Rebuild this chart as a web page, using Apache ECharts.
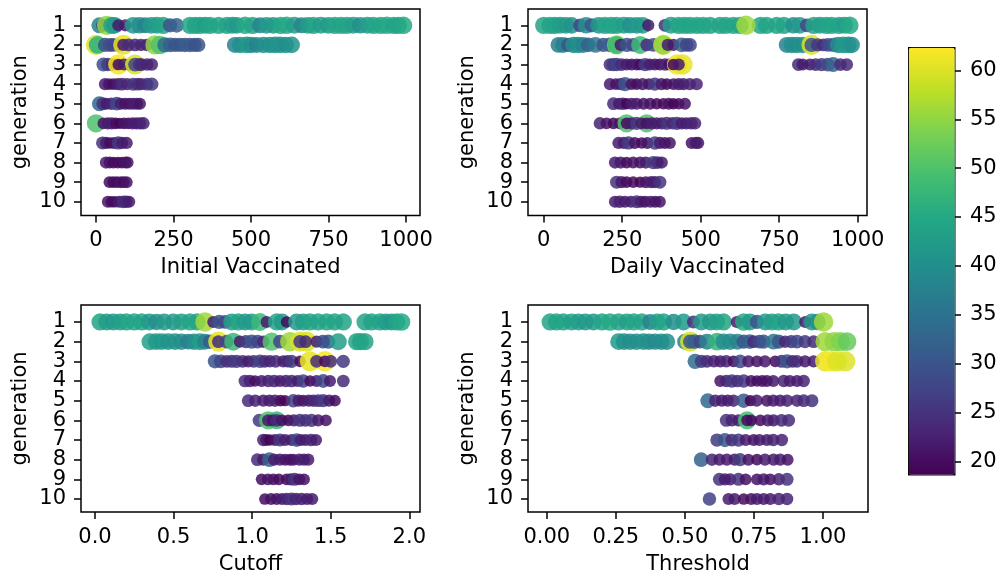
<!DOCTYPE html>
<html>
<head>
<meta charset="utf-8">
<script src="https://cdn.jsdelivr.net/npm/echarts@6/dist/echarts.min.js"></script>
<style>html,body{margin:0;padding:0;background:#fff}#chart{width:1000px;height:579px}</style>
</head>
<body>
<div id="chart"></div>
<script>
// Each point: [parameter value, generation, fitness]
const initialVaccinated = [
 [11,1,38],[21,1,24],[34,1,55],[51,1,44],[60,1,42],[72,1,22],[94,1,22],[120,1,42],[140,1,40],[158,1,38],[178,1,42],[196,1,43],[217,1,44],[239,1,30],[260,1,32],[303,1,44],[320,1,44],[335,1,44],[352,1,43],[368,1,44],[395,1,44],[422,1,44],[440,1,43],[454,1,42],[481,1,45],[505,1,44],[529,1,38],[550,1,42],[572,1,42],[595,1,44],[615,1,45],[640,1,43],[663,1,38],[683,1,42],[701,1,44],[725,1,43],[749,1,42],[770,1,44],[790,1,44],[809,1,44],[830,1,43],[852,1,40],[875,1,43],[895,1,44],[918,1,44],[938,1,45],[960,1,44],[975,1,44],[992,1,45],
 [0,2,60],[5,2,46],[29,2,30],[45,2,29],[56,2,28],[72,2,27],[88,2,61],[88,2,22],[105,2,24],[126,2,24],[145,2,23],[163,2,23],[190,2,55],[206,2,50],[222,2,34],[239,2,32],[255,2,30],[271,2,30],[287,2,31],[303,2,31],[318,2,30],[330,2,30],[448,2,38],[465,2,40],[486,2,42],[500,2,40],[518,2,38],[540,2,40],[561,2,40],[578,2,41],[594,2,41],[612,2,40],[631,2,41],
 [24,3,29],[38,3,27],[51,3,24],[62,3,22],[72,3,62],[72,3,20],[90,3,22],[110,3,24],[126,3,60],[126,3,28],[140,3,25],[147,3,24],[165,3,23],[180,3,23],
 [29,4,22],[42,4,21],[56,4,20],[70,4,22],[83,4,24],[100,4,23],[120,4,25],[135,4,24],[147,4,23],[165,4,24],[180,4,26],
 [11,5,33],[22,5,25],[34,5,22],[50,5,23],[67,5,28],[80,5,22],[94,5,21],[108,5,21],[120,5,22],[132,5,22],[142,5,21],
 [0,6,50],[24,6,21],[38,6,22],[51,6,22],[64,6,20],[77,6,19],[90,6,21],[104,6,21],[118,6,22],[131,6,22],[143,6,22],[153,6,23],
 [21,7,25],[33,7,22],[45,7,20],[58,7,21],[72,7,26],[85,7,22],[99,7,22],
 [32,8,22],[44,8,21],[56,8,20],[70,8,20],[83,8,20],[95,8,21],[102,8,21],
 [43,9,20],[55,9,20],[67,9,20],[80,9,21],[90,9,20],[99,9,21],
 [38,10,21],[50,10,20],[61,10,20],[75,10,22],[88,10,24],[98,10,23],[107,10,22]
];
const dailyVaccinated = [
 [0,1,44],[20,1,44],[35,1,44],[52,1,43],[70,1,42],[89,1,41],[116,1,28],[135,1,40],[153,1,30],[175,1,42],[195,1,44],[215,1,44],[232,1,44],[255,1,43],[275,1,40],[296,1,42],[315,1,42],[333,1,22],[386,1,24],[405,1,43],[429,1,44],[448,1,44],[466,1,44],[488,1,44],[508,1,44],[530,1,44],[561,1,44],[580,1,44],[604,1,44],[625,1,44],[690,1,44],[644,1,56],[710,1,44],[742,1,44],[765,1,44],[795,1,40],[815,1,42],[838,1,28],[860,1,44],[880,1,43],[900,1,44],[917,1,44],[940,1,44],[958,1,43],[975,1,45],
 [47,2,37],[62,2,38],[78,2,30],[95,2,40],[110,2,40],[126,2,38],[142,2,32],[165,2,36],[190,2,30],[210,2,32],[232,2,55],[232,2,48],[245,2,22],[265,2,30],[285,2,28],[307,2,48],[328,2,24],[349,2,28],[381,2,60],[381,2,55],[395,2,22],[413,2,22],[439,2,32],[455,2,28],[466,2,28],
 [774,2,38],[790,2,40],[806,2,40],[825,2,40],[853,2,60],[853,2,30],[872,2,26],[890,2,24],[905,2,28],[922,2,30],[938,2,40],[954,2,42],[970,2,42],[981,2,40],
 [211,3,24],[222,3,26],[232,3,27],[248,3,24],[264,3,22],[280,3,21],[296,3,22],[307,3,20],[323,3,26],[338,3,22],[354,3,22],[370,3,21],[386,3,23],[400,3,21],[425,3,62],[442,3,61],[413,3,20],[430,3,22],
 [811,3,24],[825,3,22],[848,3,22],[866,3,24],[885,3,26],[905,3,28],[922,3,33],[945,3,24],[965,3,24],
 [211,4,22],[230,4,21],[245,4,22],[259,4,30],[280,4,21],[296,4,20],[315,4,22],[335,4,21],[354,4,26],[375,4,22],[392,4,20],[413,4,21],[430,4,22],[445,4,22],[465,4,23],[487,4,23],
 [222,5,24],[240,5,22],[252,5,23],[264,5,19],[280,5,22],[296,5,22],[318,5,21],[339,5,21],[360,5,20],[381,5,20],[398,5,21],[413,5,19],[430,5,20],[450,5,21],
 [179,6,23],[200,6,21],[222,6,20],[242,6,21],[264,6,50],[264,6,20],[280,6,22],[296,6,26],[328,6,50],[312,6,21],[328,6,21],[344,6,22],[360,6,22],[376,6,22],[392,6,25],[410,6,23],[424,6,26],[440,6,22],[455,6,22],[470,6,23],[482,6,23],
 [238,7,22],[255,7,22],[270,7,26],[290,7,21],[312,7,20],[330,7,21],[354,7,27],[370,7,22],[386,7,21],[402,7,21],[471,7,21],[485,7,22],[492,7,22],
 [227,8,22],[245,8,22],[264,8,20],[285,8,21],[307,8,21],[325,8,22],[349,8,26],[362,8,24],[376,8,22],
 [232,9,25],[248,9,22],[264,9,20],[285,9,20],[307,9,19],[325,9,21],[342,9,22],[354,9,22],[370,9,25],
 [227,10,22],[242,10,23],[259,10,22],[278,10,22],[296,10,25],[310,10,22],[323,10,21],[340,10,22],[355,10,21],[370,10,21]
];
const cutoff = [
 [0.032,1,44],[0.075,1,43],[0.117,1,42],[0.16,1,43],[0.20,1,44],[0.25,1,44],[0.297,1,44],[0.345,1,42],[0.392,1,40],[0.44,1,42],[0.498,1,42],[0.55,1,43],[0.604,1,44],[0.65,1,44],[0.70,1,56],[0.753,1,22],[0.79,1,30],[0.827,1,28],[0.87,1,43],[0.912,1,44],[0.955,1,42],[0.997,1,42],[1.05,1,48],[1.092,1,22],[1.156,1,44],[1.19,1,42],[1.219,1,20],[1.283,1,42],[1.325,1,43],[1.368,1,44],[1.42,1,44],[1.474,1,44],[1.525,1,44],[1.58,1,44],[1.718,1,44],[1.76,1,44],[1.813,1,44],[1.85,1,43],[1.887,1,42],[1.92,1,44],[1.951,1,45],
 [0.35,2,43],[0.39,2,42],[0.424,2,42],[0.465,2,41],[0.509,2,41],[0.55,2,40],[0.594,2,37],[0.63,2,40],[0.668,2,43],[0.70,2,38],[0.732,2,31],[0.785,2,61],[0.785,2,24],[0.838,2,28],[0.88,2,48],[0.922,2,22],[0.96,2,26],[0.997,2,30],[1.035,2,28],[1.071,2,23],[1.124,2,50],[1.177,2,28],[1.24,2,56],[1.304,2,60],[1.347,2,60],[1.304,2,26],[1.34,2,24],[1.41,2,22],[1.45,2,28],[1.484,2,30],[1.548,2,43],[1.665,2,44],[1.69,2,44],[1.718,2,44],
 [0.763,3,30],[0.80,3,28],[0.838,3,24],[0.87,3,25],[0.901,3,26],[0.94,3,24],[0.975,3,22],[1.01,3,24],[1.05,3,27],[1.08,3,24],[1.113,3,23],[1.15,3,24],[1.198,3,22],[1.225,3,23],[1.251,3,26],[1.304,3,20],[1.368,3,61],[1.463,3,62],[1.41,3,24],[1.463,3,20],[1.50,3,24],[1.58,3,26],
 [0.954,4,24],[0.985,4,23],[1.018,4,20],[1.06,4,22],[1.102,4,23],[1.14,4,24],[1.177,4,22],[1.215,4,23],[1.251,4,24],[1.29,4,22],[1.325,4,27],[1.368,4,20],[1.41,4,22],[1.452,4,28],[1.495,4,22],[1.58,4,24],
 [0.975,5,24],[1.02,5,23],[1.071,5,22],[1.11,5,22],[1.145,5,23],[1.18,5,20],[1.209,5,19],[1.262,5,27],[1.295,5,22],[1.325,5,21],[1.36,5,22],[1.389,5,23],[1.42,5,24],[1.452,5,26],[1.49,5,22],[1.527,5,20],
 [1.045,6,26],[1.102,6,50],[1.156,6,48],[1.102,6,22],[1.13,6,21],[1.156,6,24],[1.19,6,21],[1.23,6,20],[1.265,6,22],[1.304,6,25],[1.34,6,24],[1.378,6,26],[1.42,6,22],[1.469,6,21],
 [1.071,7,23],[1.09,7,21],[1.113,7,19],[1.145,7,21],[1.177,7,25],[1.21,7,22],[1.25,7,22],[1.283,7,28],[1.31,7,22],[1.34,7,22],[1.375,7,23],[1.406,7,22],
 [1.033,8,24],[1.07,8,22],[1.11,8,32],[1.14,8,22],[1.177,8,22],[1.21,8,21],[1.24,8,21],[1.262,8,21],[1.3,8,22],[1.33,8,22],[1.357,8,22],
 [1.06,9,20],[1.1,9,21],[1.135,9,21],[1.17,9,20],[1.219,9,20],[1.245,9,22],[1.27,9,25],[1.30,9,21],[1.33,9,21],
 [1.081,10,20],[1.12,10,21],[1.156,10,21],[1.19,10,22],[1.22,10,23],[1.251,10,25],[1.28,10,23],[1.315,10,23],[1.35,10,22],[1.382,10,22]
];
const threshold = [
 [0.012,1,44],[0.035,1,44],[0.06,1,44],[0.09,1,43],[0.115,1,43],[0.14,1,42],[0.169,1,42],[0.2,1,44],[0.229,1,45],[0.26,1,44],[0.29,1,43],[0.315,1,44],[0.344,1,44],[0.374,1,38],[0.40,1,43],[0.423,1,44],[0.459,1,40],[0.495,1,42],[0.531,1,25],[0.56,1,42],[0.592,1,42],[0.615,1,43],[0.64,1,44],[0.688,1,22],[0.713,1,45],[0.735,1,42],[0.761,1,30],[0.791,1,42],[0.815,1,43],[0.839,1,44],[0.865,1,42],[0.894,1,42],[0.936,1,22],[0.96,1,42],[0.98,1,40],[1.002,1,56],
 [0.26,2,42],[0.28,2,41],[0.302,2,40],[0.325,2,40],[0.35,2,41],[0.37,2,40],[0.392,2,39],[0.415,2,40],[0.435,2,40],[0.501,2,38],[0.519,2,60],[0.519,2,30],[0.535,2,32],[0.555,2,28],[0.58,2,38],[0.616,2,47],[0.64,2,40],[0.664,2,40],[0.69,2,38],[0.713,2,30],[0.735,2,32],[0.749,2,24],[0.77,2,28],[0.785,2,30],[0.821,2,36],[0.84,2,30],[0.863,2,23],[0.885,2,26],[0.906,2,28],[0.935,2,26],[0.966,2,24],[1.008,2,56],[1.04,2,55],[1.063,2,54],[1.087,2,52],
 [0.537,3,34],[0.56,3,26],[0.58,3,24],[0.605,3,23],[0.628,3,22],[0.65,3,23],[0.676,3,20],[0.70,3,28],[0.73,3,22],[0.761,3,21],[0.79,3,22],[0.827,3,20],[0.85,3,25],[0.87,3,30],[0.89,3,24],[0.906,3,24],[0.935,3,22],[0.966,3,22],[1.008,3,61],[1.03,3,62],[1.051,3,60],[1.081,3,60],
 [0.628,4,21],[0.65,4,23],[0.67,4,26],[0.69,4,24],[0.713,4,26],[0.74,4,21],[0.761,4,20],[0.78,4,21],[0.797,4,21],[0.82,4,22],[0.858,4,23],[0.88,4,22],[0.906,4,22],[0.93,4,23],
 [0.583,5,33],[0.61,5,23],[0.634,5,22],[0.655,5,22],[0.676,5,23],[0.713,5,31],[0.737,5,19],[0.76,5,22],[0.797,5,21],[0.82,5,22],[0.845,5,22],[0.87,5,23],[0.906,5,23],[0.93,5,24],[0.96,5,25],
 [0.65,6,25],[0.67,6,23],[0.694,6,22],[0.725,6,49],[0.725,6,20],[0.74,6,20],[0.773,6,20],[0.80,6,22],[0.821,6,22],[0.85,6,24],[0.876,6,24],
 [0.616,7,26],[0.645,7,30],[0.67,7,24],[0.694,7,26],[0.72,7,22],[0.749,7,21],[0.77,7,22],[0.797,7,22],[0.82,7,23],[0.851,7,23],
 [0.559,8,32],[0.598,8,23],[0.625,8,22],[0.652,8,22],[0.68,8,22],[0.70,8,26],[0.73,8,21],[0.761,8,20],[0.79,8,22],[0.821,8,22],[0.845,8,22],[0.872,8,21],
 [0.625,9,25],[0.645,9,22],[0.664,9,22],[0.694,9,25],[0.72,9,21],[0.761,9,21],[0.785,9,22],[0.809,9,21],[0.84,9,23],[0.87,9,25],
 [0.589,10,27],[0.658,10,22],[0.68,10,22],[0.713,10,20],[0.74,10,21],[0.761,10,22],[0.785,10,22],[0.809,10,22],[0.84,10,23],[0.87,10,23]
];
const generationTicks = [1,2,3,4,5,6,7,8,9,10];
const vaccTicks = [0,250,500,750,1000];
const cutoffTicks = [0,0.5,1,1.5,2];
const thresholdTicks = [0,0.25,0.5,0.75,1];
const colorbarTicks = [20,25,30,35,40,45,50,55,60];
const fitnessMin = 18.7, fitnessMax = 62.4;
const viridis = ['#440154','#482475','#414487','#355f8d','#2a788e','#21918c','#22a884','#44bf70','#7ad151','#bddf26','#fde725'];

const FONT = 'DejaVu Sans';
const FS = 21;
const chart = echarts.init(document.getElementById('chart'), null, {renderer:'canvas'});

const grids = [
  {left:81, top:9, width:339, height:206.5},
  {left:528, top:9, width:339, height:206.5},
  {left:81, top:305, width:339, height:207},
  {left:528, top:305, width:340, height:207},
  {left:908, top:47, width:46, height:427}
].map((g,i)=>Object.assign({show:i<4, borderColor:'#000', borderWidth:1.5, backgroundColor:'transparent', containLabel:false}, g));

function xAx(idx, name, min, max, ticks, fmt){
  return {gridIndex:idx, type:'value', min:min, max:max, name:name, nameLocation:'middle', nameGap:42,
    nameTextStyle:{fontFamily:FONT, fontSize:FS, color:'#000'},
    axisLine:{show:false, onZero:false}, splitLine:{show:false},
    axisTick:{show:true, inside:false, length:7, lineStyle:{color:'#000', width:1.5}, customValues:ticks},
    axisLabel:{show:true, margin:15, showMinLabel:true, showMaxLabel:true, fontFamily:FONT, fontSize:FS, color:'#000', customValues:ticks, formatter:fmt}};
}
// generation axis: generation plotted downward (generation 1 at top).
// Labels are split over two overlaid axes (odd / even generations) so none is auto-hidden.
const negGen = generationTicks.map(g=>-g);
const oddGen = negGen.filter((g,i)=>i%2===0);
const evenGen = negGen.filter((g,i)=>i%2===1);
function yAx(idx, top, bottom, vals, withName){
  return {gridIndex:idx, type:'value', position:'left', offset:0, min:-bottom, max:-top,
    name:withName?'generation':'', nameLocation:'middle', nameGap:50,
    nameTextStyle:{fontFamily:FONT, fontSize:FS, color:'#000'},
    axisLine:{show:false, onZero:false}, splitLine:{show:false},
    axisTick:{show:true, inside:false, length:7, lineStyle:{color:'#000', width:1.5}, customValues:vals},
    axisLabel:{show:true, margin:15, showMinLabel:true, showMaxLabel:true, fontFamily:FONT, fontSize:FS, color:'#000', customValues:vals, formatter:v=>String(Math.round(-v))}};
}
const sizeFn = v => 2.6*Math.sqrt(v[2]);
function ser(idx, pts){
  return {type:'scatter', xAxisIndex:idx, yAxisIndex:idx, data:pts.map(p=>[p[0], -p[1], p[2]]), symbolSize:sizeFn,
    itemStyle:{opacity:0.85}, emphasis:{disabled:true}, silent:true};
}
const yRanges = [[0.168,10.70],[0.168,10.70],[0.136,10.66],[0.136,10.66]];

chart.setOption({
  animation:false,
  backgroundColor:'#fff',
  grid:grids,
  xAxis:[
    xAx(0,'Initial Vaccinated',-48.4,1045,vaccTicks,v=>String(v)),
    xAx(1,'Daily Vaccinated',-50,1029.6,vaccTicks,v=>String(v)),
    xAx(2,'Cutoff',-0.089,2.068,cutoffTicks,v=>v.toFixed(1)),
    xAx(3,'Threshold',-0.068,1.163,thresholdTicks,v=>v.toFixed(2)),
    {gridIndex:4, type:'value', show:false, min:0, max:1}
  ],
  yAxis:[
    yAx(0,yRanges[0][0],yRanges[0][1],oddGen,true),
    yAx(1,yRanges[1][0],yRanges[1][1],oddGen,true),
    yAx(2,yRanges[2][0],yRanges[2][1],oddGen,true),
    yAx(3,yRanges[3][0],yRanges[3][1],oddGen,true),
    {gridIndex:4, type:'value', position:'right', min:fitnessMin, max:fitnessMax,
     axisLine:{show:false, onZero:false}, splitLine:{show:false},
     axisTick:{show:true, inside:false, length:7, lineStyle:{color:'#000', width:1.5}, customValues:colorbarTicks},
     axisLabel:{show:true, margin:16, fontFamily:FONT, fontSize:FS, color:'#000', customValues:colorbarTicks}},
    yAx(0,yRanges[0][0],yRanges[0][1],evenGen,false),
    yAx(1,yRanges[1][0],yRanges[1][1],evenGen,false),
    yAx(2,yRanges[2][0],yRanges[2][1],evenGen,false),
    yAx(3,yRanges[3][0],yRanges[3][1],evenGen,false)
  ],
  visualMap:{type:'continuous', min:fitnessMin, max:fitnessMax, dimension:2, seriesIndex:[0,1,2,3],
    inRange:{color:viridis}, calculable:false, realtime:false, text:null, showLabel:false,
    itemWidth:46, itemHeight:427, left:908, top:47, padding:0,
    borderColor:'#000', borderWidth:1.5, hoverLink:false},
  series:[ser(0,initialVaccinated), ser(1,dailyVaccinated), ser(2,cutoff), ser(3,threshold)]
});
</script>
</body>
</html>
